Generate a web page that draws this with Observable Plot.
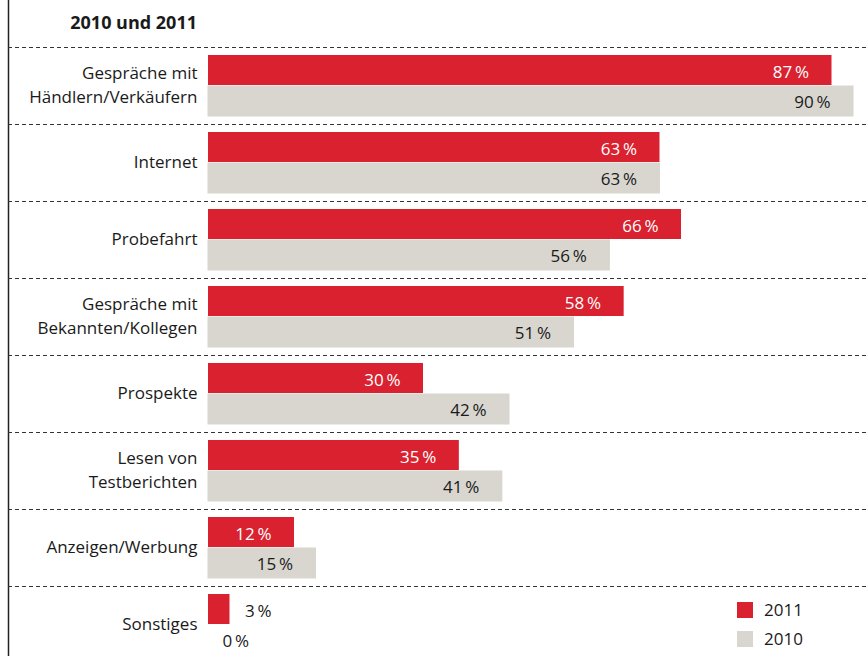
<!DOCTYPE html>
<html>
<head>
<meta charset="utf-8">
<script src="https://cdn.jsdelivr.net/npm/d3@7"></script>
<script src="https://cdn.jsdelivr.net/npm/@observablehq/plot@0.6"></script>
<style>
  html, body { margin: 0; padding: 0; background: #fff; }
  #wrap { position: relative; width: 866px; height: 656px; font-family: "Open Sans", sans-serif; color: #1a1a1a; }
  #title { position: absolute; left: 0; top: 12px; width: 197px; text-align: right; font-weight: bold; font-size: 18px; line-height: 20px; }
  .leg { position: absolute; left: 737px; font-size: 17px; line-height: 20px; }
  .leg span.sw { position: absolute; left: 0; top: 2px; width: 16px; height: 16px; }
  .leg span.lb { position: absolute; left: 27px; top: 0; }
</style>
</head>
<body>
<div id="wrap">
  <div id="title">2010 und 2011</div>
  <div id="chart"></div>
  <div class="leg" style="top:600px"><span class="sw" style="background:#d9212f"></span><span class="lb">2011</span></div>
  <div class="leg" style="top:629px"><span class="sw" style="background:#d8d6cf"></span><span class="lb">2010</span></div>
</div>
<script>
const categories = [
  "Gespräche mit\nHändlern/Verkäufern",
  "Internet",
  "Probefahrt",
  "Gespräche mit\nBekannten/Kollegen",
  "Prospekte",
  "Lesen von\nTestberichten",
  "Anzeigen/Werbung",
  "Sonstiges"
];
const values2011 = [87, 63, 66, 58, 30, 35, 12, 3];
const values2010 = [90, 63, 56, 51, 42, 41, 15, 0];

const red = "#d9212f";
const grey = "#d8d6cf";

const rows = categories.map((c, i) => ({cat: c, v2011: values2011[i], v2010: values2010[i]}));
const fmt = v => v + "\u2009%";
const threshold = 6;

const chart = Plot.plot({
  width: 866,
  height: 656,
  marginTop: 0,
  marginBottom: 0,
  marginLeft: 8,
  marginRight: 0,
  x: {domain: [0, 90], range: [208, 853], axis: null},
  y: {domain: categories, range: [47, 663], padding: 0, axis: null},
  style: {fontFamily: "Open Sans, sans-serif", fontSize: "17px", color: "#1a1a1a", background: "transparent"},
  marks: [
    Plot.frame({anchor: "left", stroke: "#222", strokeWidth: 1.5}),
    Plot.ruleY(categories, {y: d => d, dy: -38.5, stroke: "#333", strokeWidth: 1, strokeDasharray: "4,3"}),
    Plot.barX(rows, {x: "v2011", y: "cat", fill: red, insetTop: 8, insetBottom: 39}),
    Plot.barX(rows, {x: "v2010", y: "cat", fill: grey, stroke: grey, strokeWidth: 1, insetTop: 39, insetBottom: 8}),
    Plot.text(categories, {y: d => d, frameAnchor: "left", dx: 189, dy: -3, textAnchor: "end", lineHeight: 1.47, fill: "#1a1a1a", fontSize: 17}),
    Plot.text(rows.filter(d => d.v2011 >= threshold), {x: "v2011", y: "cat", text: d => fmt(d.v2011), dx: -23, dy: -13, textAnchor: "end", fill: "#fff", fontSize: 17}),
    Plot.text(rows.filter(d => d.v2011 < threshold), {x: "v2011", y: "cat", text: d => fmt(d.v2011), dx: 15, dy: -13, textAnchor: "start", fill: "#1a1a1a", fontSize: 17}),
    Plot.text(rows.filter(d => d.v2010 >= threshold), {x: "v2010", y: "cat", text: d => fmt(d.v2010), dx: -23, dy: 16.5, textAnchor: "end", fill: "#1a1a1a", fontSize: 17}),
    Plot.text(rows.filter(d => d.v2010 < threshold), {x: "v2010", y: "cat", text: d => fmt(d.v2010), dx: 14, dy: 16.5, textAnchor: "start", fill: "#1a1a1a", fontSize: 17})
  ]
});
document.getElementById("chart").appendChild(chart);
</script>
</body>
</html>
